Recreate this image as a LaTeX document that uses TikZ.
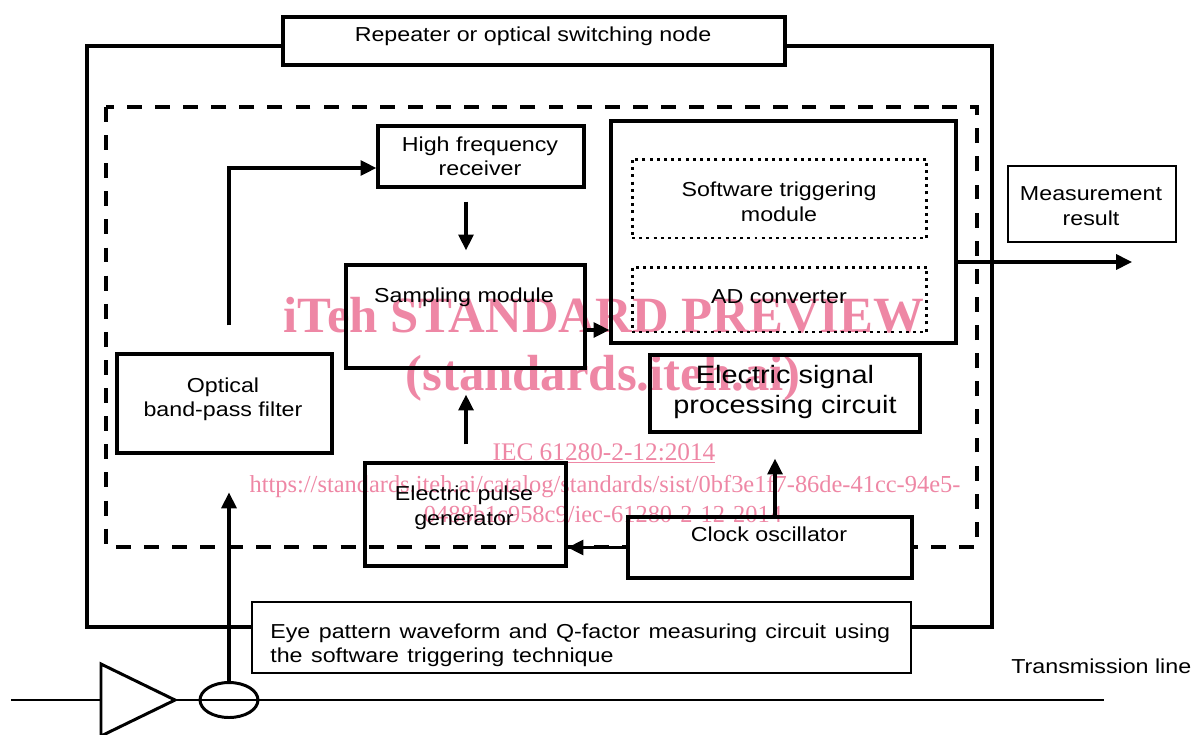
\documentclass[tikz,border=0pt]{standalone}
\usepackage{fontspec}
\setmainfont{Liberation Sans}[FakeStretch=1.15]
\newfontfamily\wmfont{Liberation Serif}
\usetikzlibrary{arrows.meta,shapes.geometric,calc}
\definecolor{wmpink}{RGB}{238,135,165}
\pgfdeclarelayer{frame}
\pgfdeclarelayer{mark}
\pgfsetlayers{frame,mark,main}
% wider word spacing for the caption box
\newcommand\widecaptionfont{\fontsize{11.5pt}{13.9pt}\selectfont\spaceskip=0.42em\relax}

\begin{document}
\begin{tikzpicture}[x=0.02cm,y=-0.02cm,
  blk/.style={draw, line width=1.9pt, inner sep=0pt},
  thinblk/.style={draw, line width=1.1pt, inner sep=0pt},
  dotblk/.style={draw, line width=1.7pt, dash pattern=on 1.7pt off 2.4pt, inner sep=0pt},
  lbl/.style={font=\fontsize{11.5pt}{13.9pt}\selectfont, inner sep=0pt, anchor=base},
  biglbl/.style={font=\fontsize{14.3pt}{17pt}\selectfont, inner sep=0pt, anchor=base},
  arr/.style={line width=1.9pt, -{Triangle[length=9pt,width=8.5pt]}},
  wmb/.style={font=\wmfont\bfseries\fontsize{28.9pt}{30pt}\selectfont, text=wmpink, inner sep=0pt, anchor=base},
  wmr/.style={font=\wmfont\fontsize{14.4pt}{16pt}\selectfont, text=wmpink, inner sep=0pt, anchor=base},
  wmu/.style={font=\wmfont\fontsize{13.9pt}{16pt}\selectfont, text=wmpink, inner sep=0pt, anchor=base}]
\useasboundingbox (0,0) rectangle (1199,734);

% boxes
\node[blk, minimum width=10.04cm, minimum height=0.96cm] (title) at (534,41) {};
\node[blk, minimum width=4.12cm, minimum height=1.22cm] (hf) at (481,156.5) {};
\node[blk, minimum width=4.78cm, minimum height=2.06cm] (samp) at (465.5,316.5) {};
\node[blk, minimum width=6.9cm, minimum height=4.44cm] (proc) at (783.5,232) {};
\node[dotblk, minimum width=5.9cm, minimum height=1.58cm] (sw) at (779.5,198.5) {};
\node[dotblk, minimum width=5.9cm, minimum height=1.3cm] (ad) at (779.5,299.5) {};
\node[thinblk, minimum width=3.36cm, minimum height=1.52cm] (meas) at (1092,204) {};
\node[blk, minimum width=4.3cm, minimum height=1.98cm] (filt) at (224.5,403.5) {};
\node[blk, minimum width=5.4cm, minimum height=1.54cm] (esp) at (785,393.5) {};
\node[blk, minimum width=4.02cm, minimum height=2.06cm] (pulse) at (465.5,514.5) {};
\node[blk, minimum width=5.68cm, minimum height=1.22cm] (clock) at (770,547.5) {};
\node[thinblk, minimum width=13.18cm, minimum height=1.42cm] (eye) at (581.5,637.5) {};

% node frame, measuring-circuit boundary and blanked box interiors
\begin{pgfonlayer}{frame}
\draw[line width=1.9pt] (87,46) rectangle (992,627);
\draw[line width=1.9pt, dash pattern=on 8.5pt off 7.5pt] (106,107) rectangle (977,547);
\fill[white] (title.south west) rectangle (title.north east);
\fill[white] (clock.south west) rectangle (clock.north east);
\fill[white] (eye.south west) rectangle (eye.north east);
\draw[line width=1.6pt] (11,700) -- (1104,700);
\end{pgfonlayer}

% transmission line amplifier and optical tap
\draw[line width=1.7pt, fill=white] (101,664) -- (175,700) -- (101,736) -- cycle;
\node[draw, ellipse, line width=1.7pt, minimum width=1.16cm, minimum height=0.7cm, inner sep=0pt] (tap) at (229,700) {};

% labels
\node[lbl] (titletxt) at (533,41) {Repeater or optical switching node};
\node[lbl] (hftxt1) at (480,151) {High frequency};
\node[lbl] (hftxt2) at (480,175) {receiver};
\node[lbl] (samptxt) at (464,302) {Sampling module};
\node[lbl] (swtxt1) at (779,196) {Software triggering};
\node[lbl] (swtxt2) at (779,221) {module};
\node[lbl] (adtxt) at (779,303) {AD converter};
\node[lbl] (meastxt1) at (1091,200) {Measurement};
\node[lbl] (meastxt2) at (1091,225) {result};
\node[lbl] (filttxt1) at (223,392) {Optical};
\node[lbl] (filttxt2) at (223,416) {band-pass filter};
\node[biglbl] (esptxt1) at (785,383) {Electric signal};
\node[biglbl] (esptxt2) at (785,413) {processing circuit};
\node[lbl] (pulsetxt1) at (464,500) {Electric pulse};
\node[lbl] (pulsetxt2) at (464,525) {generator};
\node[lbl] (clocktxt) at (769,541) {Clock oscillator};
\node[lbl, anchor=base west, font=\widecaptionfont] (eyetxt1) at (270,638) {Eye pattern waveform and Q-factor measuring circuit using};
\node[lbl, anchor=base west, font=\widecaptionfont] (eyetxt2) at (270,662) {the software triggering technique};
\node[lbl, anchor=base west] (linetxt) at (1011,673) {Transmission line};

% signal paths
\coordinate (result) at (1132,262);
\draw[arr, shorten <=15.3pt] (tap.north |- filt.north) |- ($(hf.west)+(0,11.5)$);
\draw[arr, shorten <=7.4pt, shorten >=7.4pt] (hf.south -| 466,0) -- (samp.north -| 466,0);
\draw[arr] ($(samp.east)+(0,13.5)$) coordinate (sa) -- (sa -| proc.west);
\draw[arr, shorten <=9.6pt, shorten >=14.2pt] (pulse.north -| 466,0) -- (samp.south -| 466,0);
\draw[arr, shorten >=14.2pt] (clock.north -| 775,0) -- (esp.south -| 775,0);
\draw[arr] (clock.west) -- (clock.west -| pulse.east);
\draw[arr, shorten >=21.5pt] (tap.north) -- (tap.north |- filt.south);
\draw[arr] (proc.east |- result) -- (result);

% watermark, kept beneath the line work
\begin{pgfonlayer}{mark}
\node[wmb] (wm1) at (604,332) {iTeh STANDARD PREVIEW};
\node[wmb] (wm2) at (603,390) {(standards.iteh.ai)};
\node[wmr] (wm3) at (604,460) {\underline{IEC 61280-2-12:2014}};
\node[wmu] (wm4) at (605,492) {https://standards.iteh.ai/catalog/standards/sist/0bf3e1f7-86de-41cc-94e5-};
\node[wmu] (wm5) at (603,522) {0488b1c958c9/iec-61280-2-12-2014};
\end{pgfonlayer}
\end{tikzpicture}
\end{document}
